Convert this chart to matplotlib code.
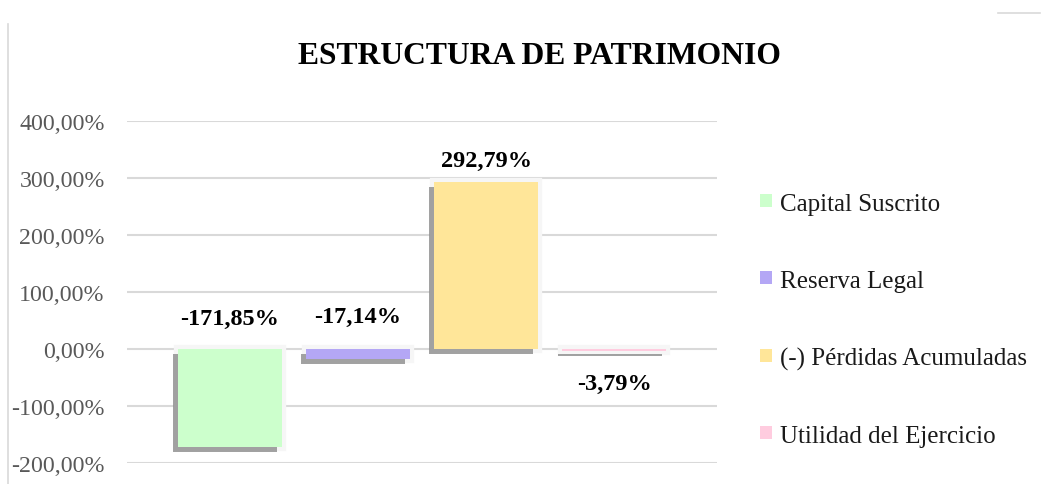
import matplotlib.pyplot as plt
import matplotlib.patheffects as pe
from matplotlib.patches import Patch
from matplotlib.lines import Line2D

plt.rcParams['font.family'] = ['Liberation Serif', 'DejaVu Serif']

# data
series = ['Capital Suscrito', 'Reserva Legal', '(-) Pérdidas Acumuladas', 'Utilidad del Ejercicio']
values = [-171.85, -17.14, 292.79, -3.79]
labels = ['-171,85%', '-17,14%', '292,79%', '-3,79%']
colors = ['#ccffcc', '#b4a7f5', '#ffe699', '#ffccdf']
yticks = [-200, -100, 0, 100, 200, 300, 400]

fig = plt.figure(figsize=(10.56, 4.85), dpi=100)
ax = fig.add_axes([0.1203, 0.0433, 0.5587, 0.7052])

effects = [pe.Stroke(linewidth=6, foreground='#f6f6f6'),
           pe.SimplePatchShadow(offset=(-3.5, -3.5), shadow_rgbFace='#8c8c8c', alpha=0.8),
           pe.Normal()]

for i, (v, c) in enumerate(zip(values, colors)):
    b = ax.bar(i, v, width=0.81, color=c, zorder=3, linewidth=0)
    for p in b:
        p.set_path_effects(effects)

# label offsets (points) relative to the zero line / bar end, as Excel placed them
label_pos = [(0, 22), (0, 23.5), (None, 15.5), (0, -24.5)]
for i, (lab, (base, dy)) in enumerate(zip(labels, label_pos)):
    y = values[i] if base is None else base
    ax.annotate(lab, xy=(i, y), xytext=(0, dy), textcoords='offset points',
                ha='center', va='center', fontsize=17.5, fontweight='bold', color='#000000', zorder=5)

ax.set_xlim(-0.8, 3.8)
ax.set_ylim(-200, 400)
ax.set_yticks(yticks)
ax.set_yticklabels([f'{t},00%' for t in yticks])
ax.set_xticks([])
ax.tick_params(axis='y', length=0, pad=16, labelsize=17.2, labelcolor='#595959')
ax.grid(axis='y', color='#d9d9d9', linewidth=1.5, zorder=0)
for s in ax.spines.values():
    s.set_visible(False)

fig.text(0.511, 0.883, 'ESTRUCTURA DE PATRIMONIO', ha='center', va='center',
         fontsize=22.8, fontweight='bold', color='#000000')

handles = [Patch(facecolor=c, edgecolor='none') for c in colors]
fig.legend(handles, series, loc='center left', bbox_to_anchor=(0.713, 0.339),
           frameon=False, fontsize=18, labelspacing=2.2, handlelength=0.45,
           handleheight=0.45, handletextpad=0.35, borderaxespad=0, borderpad=0.3,
           labelcolor='#1a1a1a')

# chart area border remnants
fig.add_artist(Line2D([8 / 1056, 8 / 1056], [0, 1 - 25 / 485], transform=fig.transFigure,
                      color='#d9d9d9', linewidth=1.2))
fig.add_artist(Line2D([998 / 1056, 1040 / 1056], [1 - 14 / 485, 1 - 14 / 485],
                      transform=fig.transFigure, color='#d9d9d9', linewidth=1.2))

fig.savefig('out.png', dpi=100)
